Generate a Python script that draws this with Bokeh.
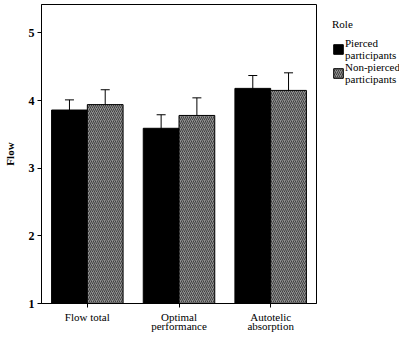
from bokeh.plotting import figure
from bokeh.layouts import row
from bokeh.models import (ColumnDataSource, FactorRange, Range1d, Whisker, TeeHead,
                          Legend, LegendItem)
from bokeh.transform import dodge
from bokeh.embed import file_html
from bokeh.resources import INLINE

categories = ["Flow total", "Optimal\nperformance", "Autotelic\nabsorption"]
pierced = [3.86, 3.59, 4.18]
pierced_err = [0.15, 0.20, 0.19]
nonpierced = [3.94, 3.78, 4.15]
nonpierced_err = [0.22, 0.26, 0.26]
legend_title = "Role"
series_labels = ["Pierced\nparticipants", "Non-pierced\nparticipants"]
y_ticks = [1, 2, 3, 4, 5]

src = ColumnDataSource(dict(
    cat=categories,
    p=pierced,
    p_lo=[v - e for v, e in zip(pierced, pierced_err)],
    p_hi=[v + e for v, e in zip(pierced, pierced_err)],
    n=nonpierced,
    n_lo=[v - e for v, e in zip(nonpierced, nonpierced_err)],
    n_hi=[v + e for v, e in zip(nonpierced, nonpierced_err)],
))

SERIF = "Liberation Serif"
P_STYLE = dict(fill_color="black", line_color="black")
N_STYLE = dict(fill_color="#909090", line_color="black",
               hatch_pattern="right_diagonal_line", hatch_color="#404040",
               hatch_scale=4, hatch_weight=1)

H = 335

p = figure(x_range=FactorRange(*categories), y_range=Range1d(1, 5.42),
           width=318, height=H, output_backend="svg", toolbar_location=None,
           min_border_left=34, min_border_top=4, min_border_bottom=2, min_border_right=2)

p.vbar(x=dodge("cat", -0.195, range=p.x_range), top="p", bottom=1, width=0.39,
       source=src, **P_STYLE)
p.vbar(x=dodge("cat", 0.195, range=p.x_range), top="n", bottom=1, width=0.39,
       source=src, **N_STYLE)

for off, lo, hi in [(-0.195, "p_lo", "p_hi"), (0.195, "n_lo", "n_hi")]:
    w = Whisker(base=dodge("cat", off, range=p.x_range), lower=lo, upper=hi, source=src,
                line_color="black", line_width=1,
                upper_head=TeeHead(size=9, line_color="black"),
                lower_head=TeeHead(size=9, line_color="black"))
    p.add_layout(w)

p.xgrid.visible = False
p.ygrid.visible = False
p.outline_line_color = "black"
p.outline_line_width = 1

p.yaxis.ticker = y_ticks
p.yaxis.axis_label = "Flow"
p.yaxis.axis_label_text_font = SERIF
p.yaxis.axis_label_text_font_style = "bold"
p.yaxis.axis_label_text_font_size = "11px"
p.yaxis.axis_label_standoff = 10
p.yaxis.major_label_text_font = SERIF
p.yaxis.major_label_text_font_style = "bold"
p.yaxis.major_label_text_font_size = "12px"
p.yaxis.major_label_standoff = 3
p.yaxis.minor_tick_line_color = None
p.yaxis.major_tick_in = 0
p.yaxis.major_tick_out = 4

p.xaxis.major_label_text_font = SERIF
p.xaxis.major_label_text_font_size = "11px"
p.xaxis.major_label_standoff = 3
p.xaxis.major_tick_in = 0
p.xaxis.major_tick_out = 4
p.xaxis.major_label_text_line_height = 0.8

for ax in (p.xaxis[0], p.yaxis[0]):
    ax.axis_line_color = "black"
    ax.major_tick_line_color = "black"
    ax.major_label_text_color = "black"
    ax.axis_label_text_color = "black"

# legend panel (its swatch renderers sit outside its visible range)
lg = figure(width=81, height=H, x_range=Range1d(0, 1), y_range=Range1d(0, 1),
            output_backend="svg", toolbar_location=None, x_axis_type=None, y_axis_type=None,
            min_border_left=0, min_border_right=0, min_border_bottom=2, min_border_top=4,
            outline_line_color=None)
lg.xgrid.visible = False
lg.ygrid.visible = False
d1 = lg.vbar(x="p", top="p", bottom="p", width=0.01, source=src, **P_STYLE)
d2 = lg.vbar(x="n", top="n", bottom="n", width=0.01, source=src, **N_STYLE)

legend = Legend(items=[LegendItem(label=series_labels[0], renderers=[d1]),
                       LegendItem(label=series_labels[1], renderers=[d2])],
                location="top_left", title=legend_title)
legend.title_text_font = SERIF
legend.title_text_font_size = "11px"
legend.title_text_font_style = "normal"
legend.title_text_color = "black"
legend.title_standoff = 7
legend.label_text_font = SERIF
legend.label_text_font_size = "11px"
legend.label_text_line_height = 0.95
legend.label_text_color = "black"
legend.glyph_width = 12
legend.glyph_height = 12
legend.label_standoff = 1
legend.spacing = 0
legend.padding = 0
legend.margin = 14
legend.border_line_color = None
legend.background_fill_alpha = 0
lg.add_layout(legend)

layout = row(p, lg)
open("out.html", "w").write(file_html(layout, INLINE))
